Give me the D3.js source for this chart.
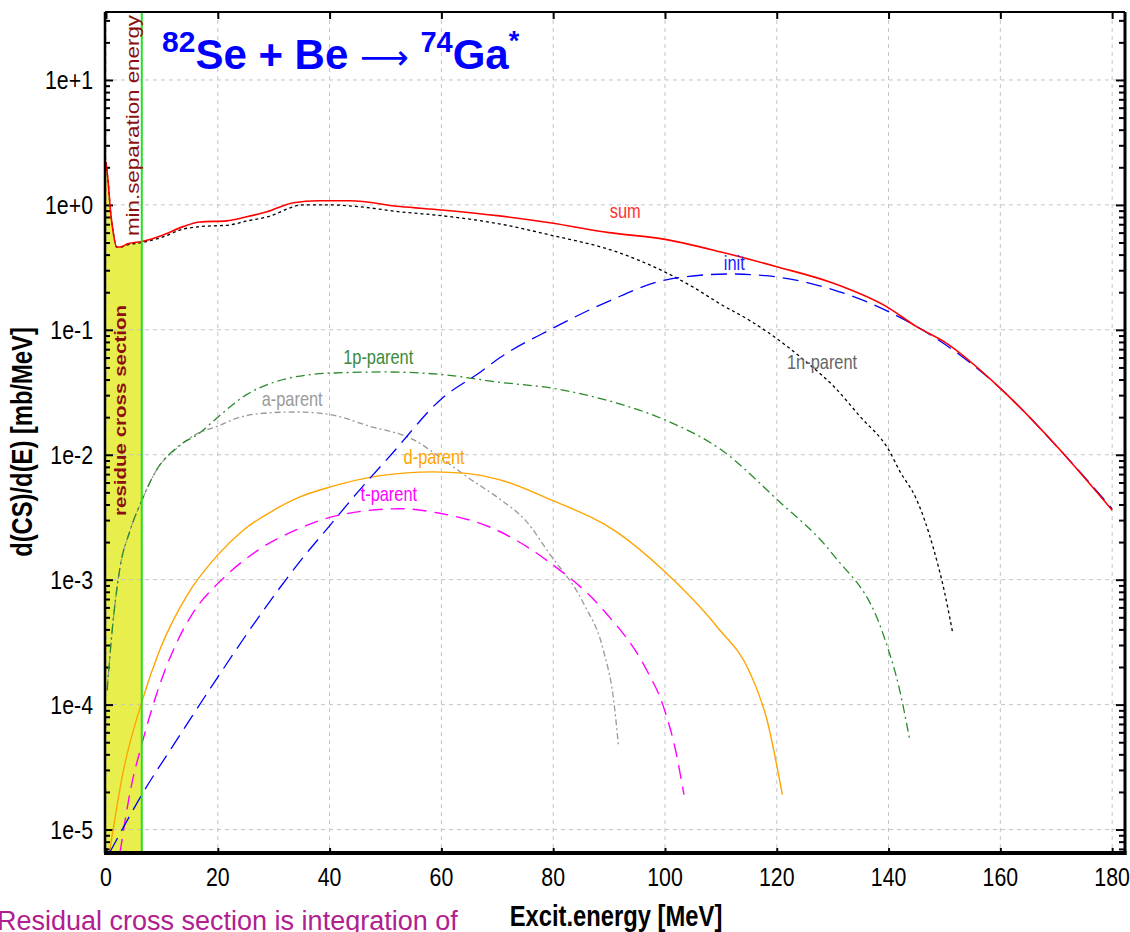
<!DOCTYPE html>
<html>
<head>
<meta charset="utf-8">
<script src="https://cdnjs.cloudflare.com/ajax/libs/d3/7.8.5/d3.min.js"></script>
<style>
  body { margin: 0; background: #fff; }
  svg { display: block; }
  text { font-family: "Liberation Sans", Arial, sans-serif; }
</style>
</head>
<body>
<script>
// energies (MeV) and d(CS)/d(E) values (mb/MeV)
var sumE   = [0, 0.4, 0.8, 1.3, 1.9, 2.5, 4, 6.4, 10, 13.8, 16.8, 21.6, 25, 28.8, 33.5, 38, 43.6, 52.6, 60, 70, 79.4, 90, 100, 110, 120, 130, 140, 145, 150, 160, 170, 180];
var sumV   = [2.2, 1.5, 0.9, 0.6, 0.46, 0.46, 0.49, 0.51, 0.57, 0.67, 0.73, 0.745, 0.8, 0.88, 1.04, 1.08, 1.08, 0.97, 0.91, 0.82, 0.72, 0.6, 0.53, 0.42, 0.32, 0.237, 0.15, 0.106, 0.08, 0.034, 0.0118, 0.0036];

var n1E    = [0, 0.4, 0.8, 1.3, 1.9, 2.5, 4, 6.4, 10, 13.8, 16.8, 22, 25, 28.8, 35.3, 40, 45, 52.6, 60, 70, 79.4, 91.4, 100, 105, 110, 115, 120, 126, 130, 135, 140, 142, 145, 148, 150, 151.5];
var n1V    = [2.2, 1.5, 0.9, 0.6, 0.46, 0.46, 0.48, 0.5, 0.55, 0.64, 0.67, 0.69, 0.74, 0.8, 1.0, 1.0, 0.97, 0.88, 0.82, 0.71, 0.575, 0.42, 0.29, 0.22, 0.16, 0.12, 0.085, 0.052, 0.036, 0.02, 0.011, 0.0074, 0.0044, 0.0018, 0.0008, 0.00037];

var initE  = [0.7, 3.4, 6.4, 12, 20, 27, 34.7, 40, 45, 51, 60, 67, 70.5, 79.4, 90, 100, 111.6, 120, 130, 140, 150, 160, 170, 180];
var initV  = [6.6e-6, 1.1e-5, 1.9e-5, 4.7e-5, 1.66e-4, 4.8e-4, 1.4e-3, 2.7e-3, 5e-3, 1e-2, 2.8e-2, 0.046, 0.06, 0.1, 0.17, 0.25, 0.28, 0.265, 0.21, 0.14, 0.077, 0.034, 0.0118, 0.0037];

var p1E    = [0.2, 1, 2.5, 4.2, 6.4, 9, 12.6, 16.8, 20, 25, 30, 40, 50, 59.7, 70.5, 80, 90, 100, 110, 120, 130, 139, 142, 143.8];
var p1V    = [1.3e-4, 3.5e-4, 1.25e-3, 2.4e-3, 4.3e-3, 7.5e-3, 1.14e-2, 0.015, 0.02, 0.03, 0.038, 0.045, 0.046, 0.044, 0.038, 0.034, 0.027, 0.019, 0.011, 4.4e-3, 1.6e-3, 3.7e-4, 1.3e-4, 5.2e-5];

var aE     = [0.2, 1, 2.5, 4.2, 6.4, 9, 12.6, 16, 19.8, 24, 28.8, 34, 40, 47, 55, 60, 64.5, 70.5, 75, 79.4, 85.4, 89, 90.8, 91.7];
var aV     = [1.3e-4, 3.5e-4, 1.25e-3, 2.4e-3, 4.3e-3, 7.5e-3, 1.12e-2, 0.0145, 0.0168, 0.02, 0.0216, 0.022, 0.021, 0.017, 0.0132, 0.0094, 6.7e-3, 4.4e-3, 3e-3, 1.6e-3, 6.5e-4, 2.7e-4, 1.1e-4, 4.6e-5];

var dE     = [0.7, 3, 6.4, 9.7, 14.5, 20, 24.6, 30, 34.7, 40, 49, 58.5, 64.5, 70.5, 79.4, 91.4, 99.6, 109.3, 115.2, 118.2, 121];
var dV     = [6.9e-6, 2.8e-5, 1.05e-4, 2.8e-4, 7.5e-4, 1.58e-3, 2.5e-3, 3.6e-3, 4.6e-3, 5.5e-3, 6.8e-3, 7.3e-3, 7.1e-3, 6.3e-3, 4.4e-3, 2.4e-3, 1.2e-3, 4.2e-4, 1.8e-4, 7.7e-5, 1.9e-5];

var tE     = [2.5, 4.5, 6.4, 9, 12.6, 16, 20, 27, 34, 41.9, 52.6, 59.7, 69, 79.4, 89, 96.7, 99.6, 102, 103.4];
var tV     = [6.5e-6, 2.2e-5, 4.8e-5, 1.2e-4, 3.1e-4, 5.8e-4, 9.3e-4, 1.7e-3, 2.5e-3, 3.3e-3, 3.7e-3, 3.4e-3, 2.6e-3, 1.37e-3, 5.7e-4, 1.9e-4, 1.0e-4, 4.1e-5, 1.9e-5];

var seriesNames = ["sum", "1n-parent", "init", "1p-parent", "a-parent", "d-parent", "t-parent"];
var xTicks = [0, 20, 40, 60, 80, 100, 120, 140, 160, 180];
var yTicks = [1e1, 1e0, 1e-1, 1e-2, 1e-3, 1e-4, 1e-5];
var yTickLabels = ["1e+1", "1e+0", "1e-1", "1e-2", "1e-3", "1e-4", "1e-5"];
var minSeparation = 6.4;

(function(){

var W = 1130, H = 932;
var pl = 105, pr = 1125, pt = 12, pb = 853;
var squeeze = 0.82;   // Arial Narrow look, from Liberation Sans

var svg = d3.select("body").append("svg")
  .attr("width", W)
  .attr("height", H);

var x = d3.scaleLinear().domain([-0.18, 182.3]).range([pl, pr]);
var y = d3.scaleLog().domain([6.49e-6, 35]).range([pb, pt]);

svg.append("defs").append("clipPath").attr("id", "plotclip")
  .append("rect")
  .attr("x", pl).attr("y", pt)
  .attr("width", pr - pl).attr("height", pb - pt);

// narrow text: translate then squeeze horizontally
function narrowText(parent, tx, ty, str, size, anchor, weight, rot){
  return parent.append("text")
    .attr("transform", "translate(" + tx + "," + ty + ")" + (rot ? " rotate(" + rot + ")" : "") + " scale(" + squeeze + ",1)")
    .attr("font-size", size)
    .attr("font-weight", weight || "normal")
    .attr("text-anchor", anchor || "start")
    .text(str);
}

// yellow band under the sum curve up to the min. separation energy
var bandPts = [];
sumE.forEach(function(e, i){
  if (e <= minSeparation) bandPts.push([e, sumV[i]]);
});
var band = d3.area()
  .x(function(d){ return x(d[0]); })
  .y0(pb)
  .y1(function(d){ return y(d[1]); })
  .curve(d3.curveMonotoneX);
svg.append("path")
  .datum(bandPts)
  .attr("clip-path", "url(#plotclip)")
  .attr("fill", "#e8ef4c")
  .attr("d", band);

// grid
var grid = svg.append("g").attr("class", "grid");
grid.selectAll("line.gx")
  .data(xTicks)
  .enter()
  .append("line")
  .attr("x1", function(d){ return x(d); })
  .attr("x2", function(d){ return x(d); })
  .attr("y1", pt).attr("y2", pb)
  .attr("stroke", "#c4c4c4")
  .attr("stroke-dasharray", "4,4");
grid.selectAll("line.gy")
  .data(yTicks)
  .enter()
  .append("line")
  .attr("x1", pl).attr("x2", pr)
  .attr("y1", function(d){ return y(d); })
  .attr("y2", function(d){ return y(d); })
  .attr("stroke", "#c4c4c4")
  .attr("stroke-dasharray", "4,4");

// minor log ticks on left and right sides
var minors = [];
for (var p = -6; p <= 1; p++) {
  for (var m = 2; m <= 9; m++) {
    var v = m * Math.pow(10, p);
    if (v > 6.6e-6 && v < 34) minors.push(v);
  }
}

var leftAxis = d3.axisRight(y).tickValues(yTicks).tickSize(8).tickFormat("");
var leftMinor = d3.axisRight(y).tickValues(minors).tickSize(5).tickFormat("");
var rightAxis = d3.axisLeft(y).tickValues(yTicks).tickSize(9).tickFormat("");
var rightMinor = d3.axisLeft(y).tickValues(minors).tickSize(6).tickFormat("");
var topAxis = d3.axisBottom(x).tickValues(xTicks).tickSize(7).tickFormat("");
var botAxis = d3.axisTop(x).tickValues(xTicks).tickSize(5).tickFormat("");

[[leftAxis, pl], [leftMinor, pl], [rightAxis, pr], [rightMinor, pr]].forEach(function(a){
  var g = svg.append("g").attr("transform", "translate(" + a[1] + ",0)").call(a[0]);
  g.select(".domain").remove();
  g.selectAll("line").attr("stroke", "#000").attr("stroke-width", 2);
});
[[topAxis, pt], [botAxis, pb]].forEach(function(a){
  var g = svg.append("g").attr("transform", "translate(0," + a[1] + ")").call(a[0]);
  g.select(".domain").remove();
  g.selectAll("line").attr("stroke", "#000").attr("stroke-width", 2);
});

// curves
var line = d3.line()
  .x(function(d){ return x(d[0]); })
  .y(function(d){ return y(d[1]); })
  .curve(d3.curveMonotoneX);

function pts(es, vs){
  return es.map(function(e, i){ return [e, vs[i]]; });
}

var curves = [
  { pts: pts(aE, aV),      color: "#999999", width: 1.3, dash: "6,3,2,3" },
  { pts: pts(p1E, p1V),    color: "#2a8a2a", width: 1.3, dash: "9,4,2,4" },
  { pts: pts(dE, dV),      color: "#ffa500", width: 1.4, dash: null },
  { pts: pts(tE, tV),      color: "#ff00ff", width: 1.4, dash: "14,8" },
  { pts: pts(n1E, n1V),    color: "#000000", width: 1.3, dash: "3,3" },
  { pts: pts(initE, initV),color: "#0000ff", width: 1.3, dash: "16,8" },
  { pts: pts(sumE, sumV),  color: "#ff0000", width: 1.6, dash: null }
];

svg.append("g")
  .attr("clip-path", "url(#plotclip)")
  .selectAll("path")
  .data(curves)
  .enter()
  .append("path")
  .attr("fill", "none")
  .attr("stroke", function(d){ return d.color; })
  .attr("stroke-width", function(d){ return d.width; })
  .attr("stroke-dasharray", function(d){ return d.dash; })
  .attr("d", function(d){ return line(d.pts); });

// min separation energy marker
svg.append("line")
  .attr("x1", x(minSeparation)).attr("x2", x(minSeparation))
  .attr("y1", pt).attr("y2", pb)
  .attr("stroke", "#22e022")
  .attr("stroke-width", 2);

// curve labels (anchored in data coordinates)
var labelSpots = [
  { name: seriesNames[0], e: 92.9, v: 0.78,   color: "#ff3030" },
  { name: seriesNames[2], e: 112.4, v: 0.30,  color: "#2020ff" },
  { name: seriesNames[1], e: 128.1, v: 0.049, color: "#666666" },
  { name: seriesNames[3], e: 48.7, v: 0.053,  color: "#3a8a3a" },
  { name: seriesNames[4], e: 33.3, v: 0.0245, color: "#9a9a9a" },
  { name: seriesNames[5], e: 58.7, v: 8.4e-3, color: "#ffa500" },
  { name: seriesNames[6], e: 50.6, v: 4.3e-3, color: "#ff00ff" }
];
var labels = svg.append("g");
labelSpots.forEach(function(d){
  narrowText(labels, x(d.e), y(d.v), d.name, 20, "middle")
    .attr("fill", d.color);
});

// vertical notes in the band
svg.append("text")
  .attr("transform", "translate(" + (x(minSeparation) - 3) + ",236) rotate(-90)")
  .attr("font-size", 18)
  .attr("fill", "#8b1010")
  .attr("textLength", 221)
  .attr("lengthAdjust", "spacingAndGlyphs")
  .text("min.separation energy");
svg.append("text")
  .attr("transform", "translate(" + (x(minSeparation) - 16) + ",516) rotate(-90)")
  .attr("font-size", 17)
  .attr("font-weight", "bold")
  .attr("fill", "#8b1010")
  .attr("textLength", 211)
  .attr("lengthAdjust", "spacingAndGlyphs")
  .text("residue cross section");

// frame
svg.append("line").attr("x1", pl).attr("x2", pr).attr("y1", pt).attr("y2", pt)
  .attr("stroke", "#000").attr("stroke-width", 2);
svg.append("line").attr("x1", pl).attr("x2", pl).attr("y1", pt).attr("y2", pb)
  .attr("stroke", "#000").attr("stroke-width", 2.5);
svg.append("line").attr("x1", pr).attr("x2", pr).attr("y1", pt).attr("y2", pb + 2)
  .attr("stroke", "#000").attr("stroke-width", 3);
svg.append("line").attr("x1", pl - 1).attr("x2", pr + 1.5).attr("y1", pb).attr("y2", pb)
  .attr("stroke", "#000").attr("stroke-width", 4);

// tick labels
var tl = svg.append("g");
xTicks.forEach(function(d){
  narrowText(tl, x(d), 886, String(d), 26, "middle");
});
yTicks.forEach(function(d, i){
  narrowText(tl, 93, y(d) + 9, yTickLabels[i], 26, "end");
});

// axis titles
narrowText(svg, 616, 926, "Excit.energy [MeV]", 29, "middle", "bold");
narrowText(svg, 32, 442, "d(CS)/d(E) [mb/MeV]", 29, "middle", "bold", -90);

// reaction title
var title = svg.append("text")
  .attr("x", 162).attr("y", 69)
  .attr("font-weight", "bold")
  .attr("font-size", 42)
  .attr("fill", "#0000ff");
title.append("tspan").attr("font-size", 30).attr("dy", -17).text("82");
title.append("tspan").attr("dy", 17).text("Se + Be ");
title.append("tspan").attr("font-weight", "normal").attr("font-family", "'DejaVu Sans', sans-serif")
  .attr("font-size", 34).text("\u27F6");
title.append("tspan").text(" ");
title.append("tspan").attr("font-size", 29).attr("dy", -17).text("74");
title.append("tspan").attr("dy", 17).text("Ga");
title.append("tspan").attr("font-size", 27).attr("dy", -19).text("*");

// footnote (cut by the page edge)
svg.append("text")
  .attr("x", -3).attr("y", 930)
  .attr("font-size", 27)
  .attr("fill", "#b0208f")
  .text("Residual cross section is integration of");

})();
</script>
</body>
</html>
